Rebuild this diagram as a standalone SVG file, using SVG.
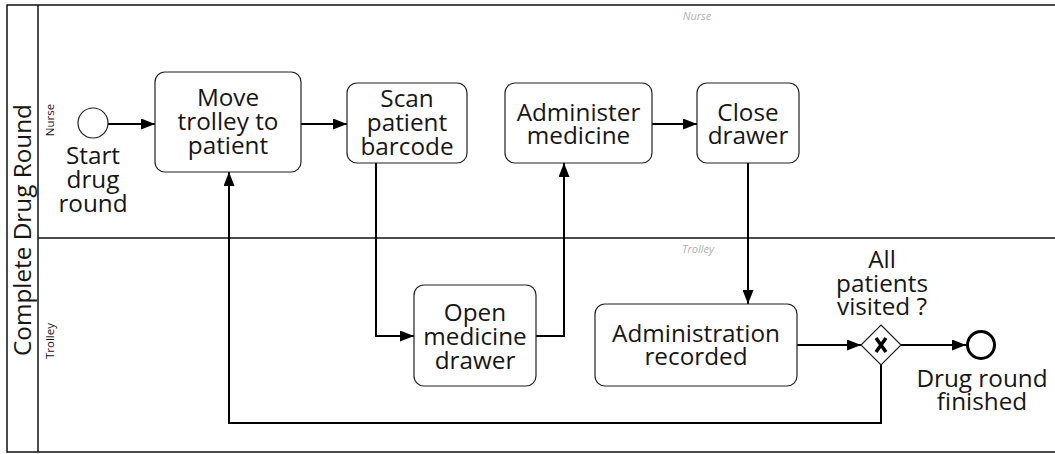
<svg xmlns="http://www.w3.org/2000/svg" width="1055" height="454" viewBox="0 0 1055 454">
  <style>
    .lbl { font-family: "Open Sans", "Noto Sans", "DejaVu Sans", sans-serif; font-size: 24.3px; fill: #161616; text-anchor: middle; }
    .lane { font-family: "Open Sans", "Noto Sans", sans-serif; font-size: 11.5px; fill: #111; text-anchor: middle; }
    .ghost { font-family: "Open Sans", "Noto Sans", sans-serif; font-size: 11px; font-style: italic; fill: #b0b0b0; text-anchor: middle; }
    .task { fill: #fff; stroke: #222; stroke-width: 1.2; }
    .flow { fill: none; stroke: #000; stroke-width: 2; marker-end: url(#arrow); }
    .pool { fill: none; stroke: #111; stroke-width: 1.5; }
  </style>
  <defs>
    <marker id="arrow" viewBox="0 0 14 11" refX="14" refY="5.5" markerWidth="14" markerHeight="11" markerUnits="userSpaceOnUse" orient="auto">
      <path d="M0,0 L14,5.5 L0,11 Z" fill="#000"/>
    </marker>
  </defs>
  <rect width="1055" height="454" fill="#fff"/>

  <!-- pool and lanes -->
  <g id="pool">
    <rect class="pool" x="7" y="5" width="1060" height="447"/>
    <line class="pool" x1="38" y1="5" x2="38" y2="452"/>
    <line class="pool" x1="38" y1="238" x2="1060" y2="238"/>
    <text class="lbl" transform="translate(31,230) rotate(-90)">Complete Drug Round</text>
    <text class="lane" transform="translate(54,120) rotate(-90)">Nurse</text>
    <text class="lane" transform="translate(54,341) rotate(-90)">Trolley</text>
    <text class="ghost" x="697" y="20">Nurse</text>
    <text class="ghost" x="698" y="253">Trolley</text>
  </g>

  <!-- connectors -->
  <g id="connectors">
    <line class="flow" x1="108" y1="124" x2="155" y2="124"/>
    <line class="flow" x1="301" y1="124" x2="347" y2="124"/>
    <polyline class="flow" points="376,163 376,336 414,336"/>
    <polyline class="flow" points="536,336 564,336 564,163"/>
    <line class="flow" x1="652" y1="124" x2="697" y2="124"/>
    <line class="flow" x1="748" y1="163" x2="748" y2="304"/>
    <line class="flow" x1="797" y1="345" x2="861" y2="345"/>
    <line class="flow" x1="901" y1="345" x2="966" y2="345"/>
    <polyline class="flow" points="881,365 881,423 229,423 229,172"/>
  </g>

  <g id="start">
    <circle cx="93" cy="123" r="15" fill="#fff" stroke="#222" stroke-width="1.2"/>
    <text class="lbl"><tspan x="93" y="164">Start</tspan><tspan x="93" y="188">drug</tspan><tspan x="93" y="212">round</tspan></text>
  </g>

  <g id="move-trolley">
    <rect class="task" x="155" y="72" width="146" height="100" rx="10"/>
    <text class="lbl"><tspan x="228" y="106">Move</tspan><tspan x="228" y="130">trolley to</tspan><tspan x="228" y="154">patient</tspan></text>
  </g>

  <g id="scan-barcode">
    <rect class="task" x="347" y="83" width="120" height="80" rx="10"/>
    <text class="lbl"><tspan x="407" y="107">Scan</tspan><tspan x="407" y="131">patient</tspan><tspan x="407" y="155">barcode</tspan></text>
  </g>

  <g id="administer">
    <rect class="task" x="505" y="83" width="147" height="80" rx="10"/>
    <text class="lbl"><tspan x="578.5" y="121">Administer</tspan><tspan x="578.5" y="144">medicine</tspan></text>
  </g>

  <g id="close-drawer">
    <rect class="task" x="697" y="83" width="102" height="80" rx="10"/>
    <text class="lbl"><tspan x="748" y="121">Close</tspan><tspan x="748" y="144">drawer</tspan></text>
  </g>

  <g id="open-drawer">
    <rect class="task" x="414" y="285" width="122" height="101" rx="10"/>
    <text class="lbl"><tspan x="475" y="321">Open</tspan><tspan x="475" y="345">medicine</tspan><tspan x="475" y="369">drawer</tspan></text>
  </g>

  <g id="recorded">
    <rect class="task" x="595" y="304" width="202" height="82" rx="10"/>
    <text class="lbl"><tspan x="696" y="342">Administration</tspan><tspan x="696" y="365">recorded</tspan></text>
  </g>

  <g id="gateway">
    <path d="M881,325 L901,345 L881,365 L861,345 Z" fill="#fff" stroke="#222" stroke-width="1.2"/>
    <path d="M876,338 L886,352 M886,338 L876,352" stroke="#000" stroke-width="3.5" fill="none"/>
    <text class="lbl"><tspan x="882" y="268">All</tspan><tspan x="882" y="292">patients</tspan><tspan x="882" y="315">visited ?</tspan></text>
  </g>

  <g id="end">
    <circle cx="981" cy="345" r="13.5" fill="#fff" stroke="#000" stroke-width="3"/>
    <text class="lbl"><tspan x="982" y="387">Drug round</tspan><tspan x="982" y="410">finished</tspan></text>
  </g>
</svg>
